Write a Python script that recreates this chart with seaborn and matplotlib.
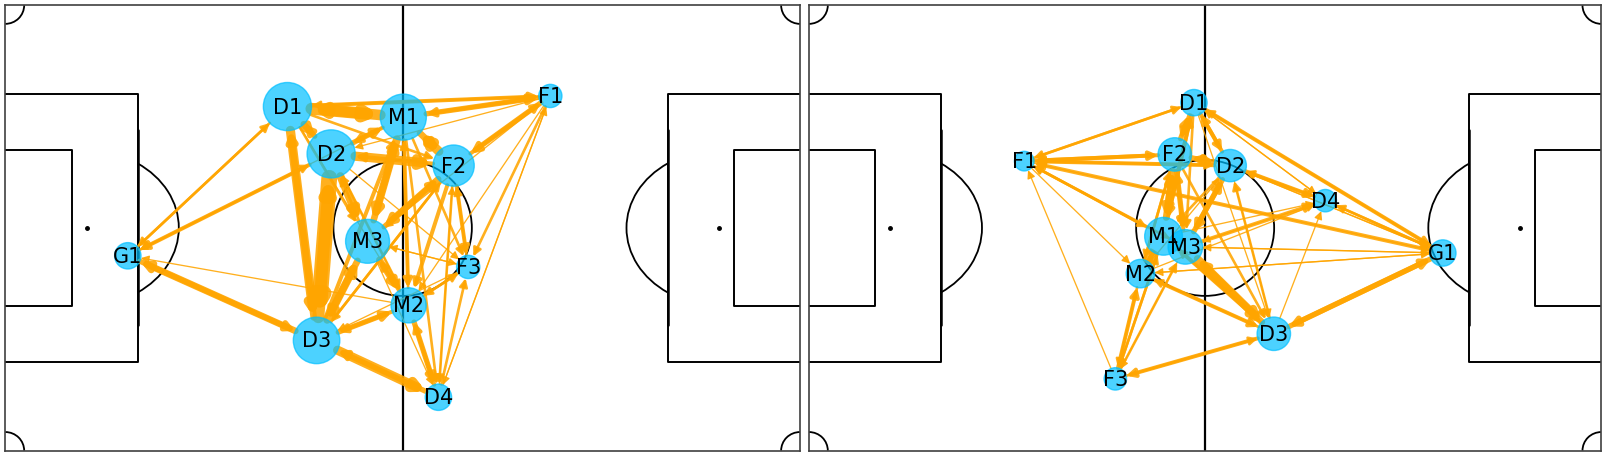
import numpy as np
import pandas as pd
import matplotlib
matplotlib.use("Agg")
import matplotlib.pyplot as plt
import seaborn as sns
from matplotlib.patches import Arc, Ellipse, FancyArrowPatch

# --- data -------------------------------------------------------------
players = ["G1", "D1", "D2", "D3", "D4", "M1", "M2", "M3", "F1", "F2", "F3"]

# team on the left pitch (keeper on the left)
home_x = [18.5, 42.6, 49.2, 47.0, 65.4, 60.1, 60.9, 54.7, 82.3, 67.7, 69.9]
home_y = [35.0, 61.8, 53.3, 19.8, 9.6, 59.9, 26.1, 37.6, 63.7, 51.2, 33.0]
home_touches = [18, 60, 60, 56, 18, 55, 32, 50, 14, 44, 14]

home_passes = [
    ("D1", "M1", 9), ("M1", "D1", 8), ("D1", "D2", 5), ("D2", "D1", 4),
    ("D1", "D3", 7), ("D3", "D1", 5), ("D2", "D3", 12), ("D3", "D2", 9),
    ("D1", "F1", 3), ("F1", "D1", 2), ("M1", "F1", 4), ("F1", "M1", 3),
    ("D1", "F2", 2), ("D2", "F2", 7), ("F2", "D2", 3), ("M1", "F2", 5),
    ("F2", "M1", 7), ("D2", "M1", 4), ("M1", "D2", 3), ("D2", "M3", 6),
    ("M3", "D2", 2), ("M1", "M3", 6), ("M3", "M1", 5), ("M3", "D3", 5),
    ("D3", "M3", 6), ("M3", "F2", 4), ("F2", "M3", 5), ("M3", "M2", 5),
    ("M2", "M3", 3), ("D3", "M2", 4), ("M2", "D3", 3), ("D3", "D4", 7),
    ("D4", "D3", 4), ("M2", "D4", 4), ("D4", "M2", 3), ("F2", "F3", 3),
    ("F3", "F2", 2), ("F2", "D4", 2), ("F2", "M2", 3), ("M1", "M2", 3),
    ("M2", "M1", 2), ("M1", "D4", 2), ("M1", "F3", 2), ("F1", "F2", 4),
    ("F2", "F1", 3), ("F1", "F3", 2), ("F1", "D4", 1), ("F1", "M2", 1),
    ("D4", "F3", 2), ("D4", "F1", 1), ("M2", "F3", 2), ("F3", "M2", 2),
    ("M3", "F3", 1), ("D2", "F3", 1), ("D2", "G1", 3), ("G1", "D2", 2),
    ("D1", "G1", 2), ("G1", "D1", 2), ("D3", "G1", 5), ("G1", "D3", 4),
    ("M2", "G1", 1), ("F2", "D3", 2), ("D3", "F2", 2), ("M2", "D2", 1),
    ("D3", "M1", 3), ("F3", "D3", 1), ("D4", "F2", 1), ("M3", "D4", 1),
    ("F1", "D2", 1), ("M1", "G1", 1), ("D1", "M3", 2), ("F1", "M3", 1),
    ("D2", "M2", 2), ("F3", "M3", 1), ("D1", "M2", 1),
]

# team on the right pitch (keeper on the right)
away_x = [96.0, 58.3, 63.8, 70.4, 78.2, 53.7, 50.2, 57.0, 32.6, 55.4, 46.4]
away_y = [35.5, 62.5, 51.2, 21.0, 44.9, 38.5, 31.8, 36.6, 52.0, 53.2, 12.9]
away_touches = [18, 18, 27, 29, 13, 37, 21, 31, 10, 29, 13]

away_passes = [
    ("F1", "D1", 2), ("D1", "F1", 2), ("F1", "F2", 3), ("F2", "F1", 3),
    ("F1", "D2", 2), ("D2", "F1", 3), ("F1", "M1", 2), ("M1", "F1", 2),
    ("F1", "M3", 1), ("M3", "F1", 2), ("F1", "G1", 1), ("G1", "F1", 3),
    ("F3", "F1", 1), ("D1", "F2", 3), ("F2", "D1", 4), ("D1", "D2", 3),
    ("D2", "D1", 3), ("D1", "M1", 3), ("M1", "D1", 3), ("D1", "M3", 2),
    ("D1", "G1", 3), ("G1", "D1", 2), ("D1", "D4", 1), ("D4", "D1", 1),
    ("D1", "D3", 1), ("F2", "D2", 4), ("D2", "F2", 4), ("F2", "M1", 5),
    ("M1", "F2", 5), ("F2", "M3", 4), ("M3", "F2", 3), ("F2", "M2", 2),
    ("M2", "F2", 2), ("F2", "D3", 2), ("D2", "M3", 4), ("M3", "D2", 4),
    ("D2", "M1", 2), ("D2", "D4", 3), ("D4", "D2", 2), ("D2", "G1", 1),
    ("G1", "D2", 1), ("D2", "D3", 1), ("D3", "D2", 2), ("M1", "M2", 3),
    ("M2", "M1", 3), ("M3", "D3", 6), ("D3", "M3", 5), ("M1", "D3", 3),
    ("D3", "M1", 2), ("M3", "D4", 3), ("D4", "M3", 1), ("G1", "M3", 1),
    ("G1", "M2", 1), ("M3", "G1", 1), ("M2", "D3", 3), ("D3", "M2", 2),
    ("M1", "F3", 2), ("F3", "M1", 2), ("M2", "F3", 2), ("F3", "M2", 3),
    ("M3", "F3", 1), ("F3", "M3", 2), ("F3", "D3", 2), ("D3", "F3", 3),
    ("D3", "G1", 4), ("G1", "D3", 4), ("D3", "D4", 1), ("D4", "G1", 2),
    ("G1", "D4", 2), ("M2", "G1", 1), ("M2", "D4", 1), ("M1", "D4", 1),
    ("M2", "D2", 1), ("F1", "M2", 1),
]

NODE_COLOR = "deepskyblue"
EDGE_COLOR = "orange"


def draw_pitch(ax):
    lc = "black"
    # halfway line and boxes
    ax.plot([60, 60], [0, 80], color=lc, lw=1.6, zorder=0)
    for x0, sgn in [(0, 1), (120, -1)]:
        ax.plot([x0, x0 + sgn * 20, x0 + sgn * 20, x0], [16, 16, 64, 64],
                color=lc, lw=1.4, zorder=0)
        ax.plot([x0, x0 + sgn * 10, x0 + sgn * 10, x0], [26, 26, 54, 54],
                color=lc, lw=1.4, zorder=0)
        ax.plot([x0 + sgn * 20] * 2, [22.5, 57.5], color=lc, lw=1.8, zorder=0)
        spot = x0 + sgn * 12.3
        ax.plot(spot, 40, "o", color=lc, ms=2.5, zorder=0)
        t1, t2 = (-56.6, 56.6) if sgn > 0 else (123.4, 236.6)
        ax.add_patch(Arc((spot, 40), 27.8, 27.8, theta1=t1, theta2=t2,
                         color=lc, lw=1.3, zorder=0))
    ax.add_patch(Ellipse((60, 40), 20.9, 24.4, fill=False, ec=lc, lw=1.3, zorder=0))
    # corner arcs
    for (cx, cy, t1, t2) in [(0, 0, 0, 90), (120, 0, 90, 180),
                             (120, 80, 180, 270), (0, 80, 270, 360)]:
        ax.add_patch(Arc((cx, cy), 5.7, 6.7, theta1=t1, theta2=t2,
                         color=lc, lw=1.3, zorder=0))
    ax.set_xlim(0, 120)
    ax.set_ylim(0, 80)
    ax.set_xticks([])
    ax.set_yticks([])
    for sp in ax.spines.values():
        sp.set_visible(True)
        sp.set_color("0.25")
        sp.set_linewidth(1.2)


def draw_network(ax, xs, ys, touches, passes):
    nodes = pd.DataFrame({"player": players, "x": xs, "y": ys, "touches": touches})
    nodes["s"] = nodes["touches"] * 20.0
    pos = nodes.set_index("player")
    # edges first
    for src, dst, w in passes:
        ra = np.sqrt(pos.loc[src, "s"]) / 2
        rb = np.sqrt(pos.loc[dst, "s"]) / 2
        arr = FancyArrowPatch((pos.loc[src, "x"], pos.loc[src, "y"]),
                              (pos.loc[dst, "x"], pos.loc[dst, "y"]),
                              arrowstyle="-|>", mutation_scale=12,
                              lw=0.95 * w, color=EDGE_COLOR, alpha=0.88,
                              shrinkA=ra, shrinkB=rb, zorder=1)
        ax.add_patch(arr)
    sns.scatterplot(data=nodes, x="x", y="y", size="touches",
                    sizes=(0, 2000), size_norm=(0, 100),
                    color=NODE_COLOR, edgecolor=NODE_COLOR, linewidth=1,
                    alpha=0.7, legend=False, ax=ax, zorder=2)
    for _, row in nodes.iterrows():
        ax.text(row["x"], row["y"], row["player"], ha="center", va="center",
                fontsize=15, color="black", zorder=3)
    ax.set_xlabel("")
    ax.set_ylabel("")


sns.set_theme(style="white")
plt.rcParams["font.family"] = ["DejaVu Sans"]

W, H = 1605, 456
fig = plt.figure(figsize=(W / 100, H / 100), dpi=100)
ax1 = fig.add_axes([5.3 / W, 4.3 / H, 794.7 / W, 445.5 / H])
ax2 = fig.add_axes([809 / W, 4.3 / H, 792.3 / W, 445.5 / H])

for ax, xs, ys, t, p in [(ax1, home_x, home_y, home_touches, home_passes),
                         (ax2, away_x, away_y, away_touches, away_passes)]:
    draw_pitch(ax)
    draw_network(ax, xs, ys, t, p)
    ax.set_xlim(0, 120)
    ax.set_ylim(0, 80)

fig.savefig("out.png", dpi=100)
